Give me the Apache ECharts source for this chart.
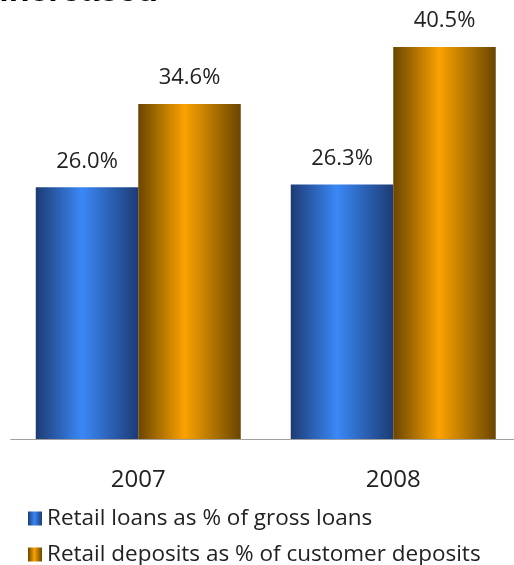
<!DOCTYPE html>
<html>
<head>
<meta charset="utf-8">
<script src="https://cdn.jsdelivr.net/npm/echarts@6/dist/echarts.min.js"></script>
<style>
  html, body { margin: 0; padding: 0; background: #fff; }
  #chart { width: 514px; height: 565px; }
</style>
</head>
<body>
<div id="chart"></div>
<script>
// Years on the category axis
const years = ['2007', '2008'];
// Share of retail business, in percent
const retailLoansShare = [26.0, 26.3];
const retailDepositsShare = [34.6, 40.5];
const seriesNames = ['Retail loans as % of gross loans', 'Retail deposits as % of customer deposits'];

const FONT = '"Open Sans", "Noto Sans", sans-serif';

function cylinder(edge, mid) {
  return new echarts.graphic.LinearGradient(0, 0, 1, 0, [
    { offset: 0, color: edge },
    { offset: 0.45, color: mid },
    { offset: 1, color: edge }
  ]);
}

const chart = echarts.init(document.getElementById('chart'), null, { renderer: 'canvas' });

const valueLabel = {
  show: true,
  position: 'top',
  distance: 15,
  fontFamily: FONT,
  fontSize: 22,
  color: '#222',
  formatter: p => p.value.toFixed(1) + '%'
};

// one legend block per series, stacked vertically
function legendRow(name, top) {
  return {
    left: 23, top: top,
    icon: 'rect',
    itemWidth: 14, itemHeight: 14,
    itemGap: 0,
    textStyle: { fontFamily: FONT, fontSize: 22.5, color: '#222' },
    data: [name]
  };
}

chart.setOption({
  animation: false,
  backgroundColor: '#fff',
  grid: { left: 10.75, width: 510, top: 3.4, bottom: 126, outerBoundsMode: 'none' },
  xAxis: {
    type: 'category',
    data: years,
    axisLine: { lineStyle: { color: '#a0a0a0', width: 1 } },
    axisTick: { show: false },
    axisLabel: { fontFamily: FONT, fontSize: 24, color: '#222', margin: 29 }
  },
  yAxis: {
    type: 'value', min: 0, max: 45, show: false,
    splitLine: { show: false }
  },
  legend: [
    legendRow(seriesNames[0], 502),
    legendRow(seriesNames[1], 538)
  ],
  graphic: [{
    type: 'text',
    style: {
      text: 'increased',
      x: 158, y: -8.5,
      textAlign: 'right',
      textVerticalAlign: 'middle',
      font: 'bold 34px "Liberation Sans", Arial, sans-serif',
      fill: '#000'
    }
  }],
  series: [
    {
      name: seriesNames[0],
      type: 'bar',
      data: retailLoansShare,
      barWidth: 102.5,
      barGap: '0%',
      itemStyle: { color: cylinder('#1d3b74', '#3a88f6') },
      label: valueLabel
    },
    {
      name: seriesNames[1],
      type: 'bar',
      data: retailDepositsShare,
      barWidth: 102.5,
      barGap: '0%',
      itemStyle: { color: cylinder('#6a4600', '#faa200') },
      label: valueLabel
    }
  ]
});
</script>
</body>
</html>
